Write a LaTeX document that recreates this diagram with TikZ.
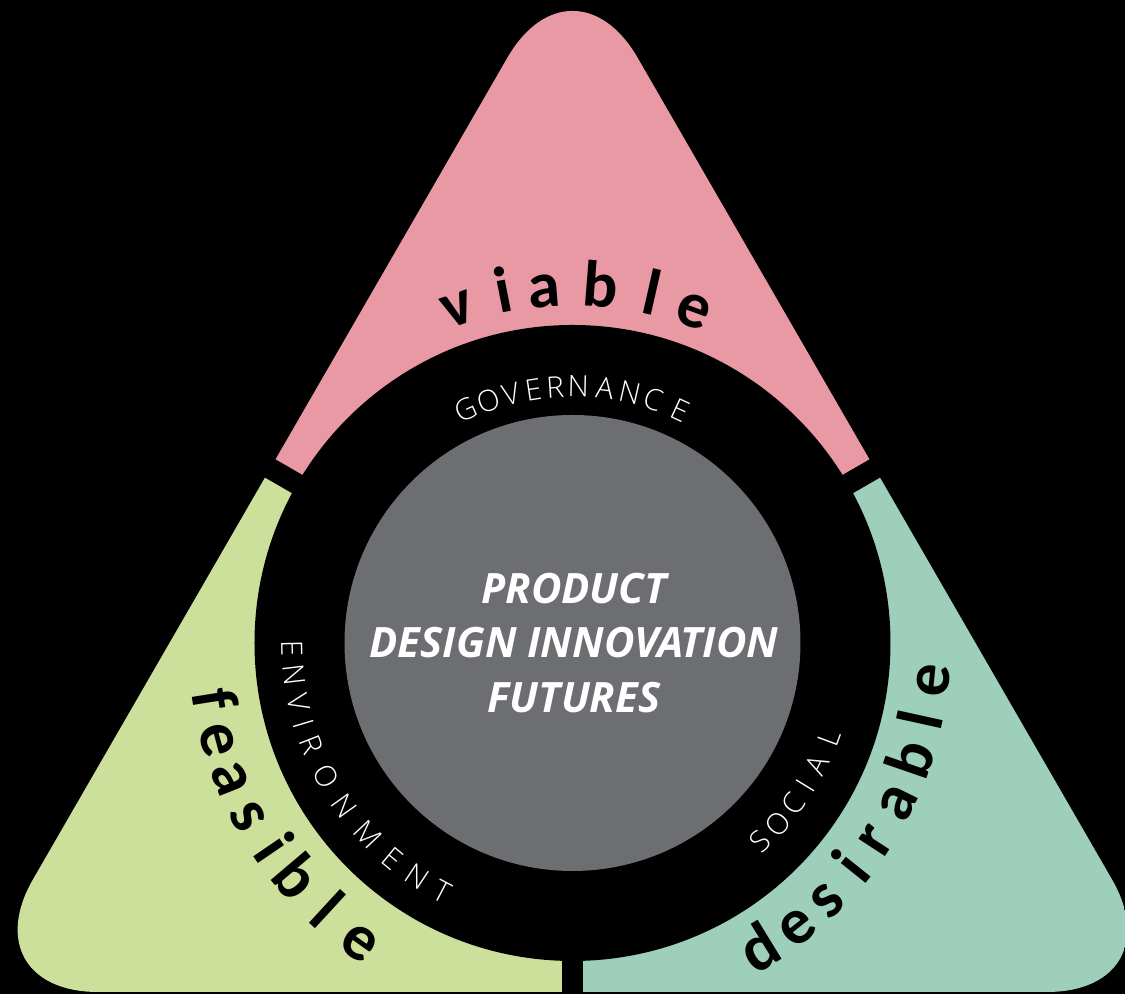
\documentclass[tikz,border=0pt]{standalone}
\usepackage{fontspec}
\setmainfont{Open Sans}
\newfontfamily\ringfont{Open Sans Light}
\newfontfamily\wordfont{Carlito}
\definecolor{viablepink}{HTML}{E999A3}
\definecolor{feasiblegreen}{HTML}{CCE09B}
\definecolor{desirableteal}{HTML}{9DCFBB}
\definecolor{coregray}{HTML}{6D6E72}
\tikzset{
	bigletter/.style={font=\fontsize{18.6}{19}\selectfont\wordfont\bfseries, text=black, inner sep=0pt, anchor=base},
	ringletter/.style={font=\fontsize{8.4}{9}\selectfont\ringfont, text=white, inner sep=0pt, anchor=base},
}

\begin{document}
\begin{tikzpicture}
			%%%%% START %%%%%
			
			\fill[black] (-5.725, -3.51) rectangle (5.525, 6.43);
			\useasboundingbox (-5.725, -3.51) rectangle (5.525, 6.43);
			
			\coordinate (apex) at (0, 6.98);
			\coordinate (left) at (-6.045, -3.49);
			\coordinate (right) at (6.045, -3.49);
			
			\begin{scope}
				\clip[rounded corners=1.3cm] (0, -3.49) -- (right) -- (apex) -- (left) -- cycle;
				\fill[viablepink] (0, 0) -- (150:9) -- (90:9) -- (30:9) -- cycle;
				\fill[feasiblegreen] (0, 0) -- (150:9) -- (210:9) -- (270:9) -- cycle;
				\fill[desirableteal] (0, 0) -- (270:9) -- (330:9) -- (30:9) -- cycle;
			\end{scope}
			
			\draw[line width=0.21cm, black] (0, 0) -- (150:8);
			\draw[line width=0.21cm, black] (0, 0) -- (30:8);
			\draw[line width=0.21cm, black] (0, 0) -- (270:8);
			
			\fill[black] (0, 0) circle (3.18);
			\fill[coregray] (0, 0) circle (2.28);
			
			% outer words
			\foreach \ch/\ang [count=\i] in {v/108.9, i/101.2, a/94.5, b/85.5, l/77.2, e/70.0}
				\node[bigletter, rotate=\ang-90] (viable\i) at (\ang:3.37) {\ch};
			\foreach \ch/\ang [count=\i] in {f/189.0, e/195.3, a/201.6, s/208.1, i/214.4, b/220.3, l/227.4, e/234.5}
				\node[bigletter, rotate=\ang+90] (feasible\i) at (\ang:3.84) {\ch};
			\foreach \ch/\ang [count=\i] in {d/301.5, e/308.3, s/314.7, i/321.3, r/326.9, a/333.8, b/341.0, l/347.6, e/354.1}
				\node[bigletter, rotate=\ang+90] (desirable\i) at (\ang:3.79) {\ch};
			
			% ring words
			\foreach \ch/\ang [count=\i] in {G/114.5, O/109.1, V/103.7, E/98.8, R/93.9, N/88.7, A/82.7, N/77.1, C/71.5, E/65.2}
				\node[ringletter, rotate=\ang-90] (gov\i) at (\ang:2.46) {\ch};
			\foreach \ch/\ang [count=\i] in {E/181.1, N/186.6, V/192.2, I/196.7, R/201.4, O/208.4, N/215.5, M/223.2, E/230.2, N/236.4, T/242.4}
				\node[ringletter, rotate=\ang+90] (env\i) at (\ang:2.91) {\ch};
			\foreach \ch/\ang [count=\i] in {S/313.4, O/318.6, C/323.9, I/328.4, A/333.6, L/339.7}
				\node[ringletter, rotate=\ang+90] (soc\i) at (\ang:2.84) {\ch};
			
			\node[font=\fontsize{11.9}{15.4}\selectfont\bfseries\itshape, text=white, align=center] (core) at (0.015, 0) {PRODUCT\\DESIGN INNOVATION\\FUTURES};
			
			%%%%% END %%%%%
\end{tikzpicture}
\end{document}
